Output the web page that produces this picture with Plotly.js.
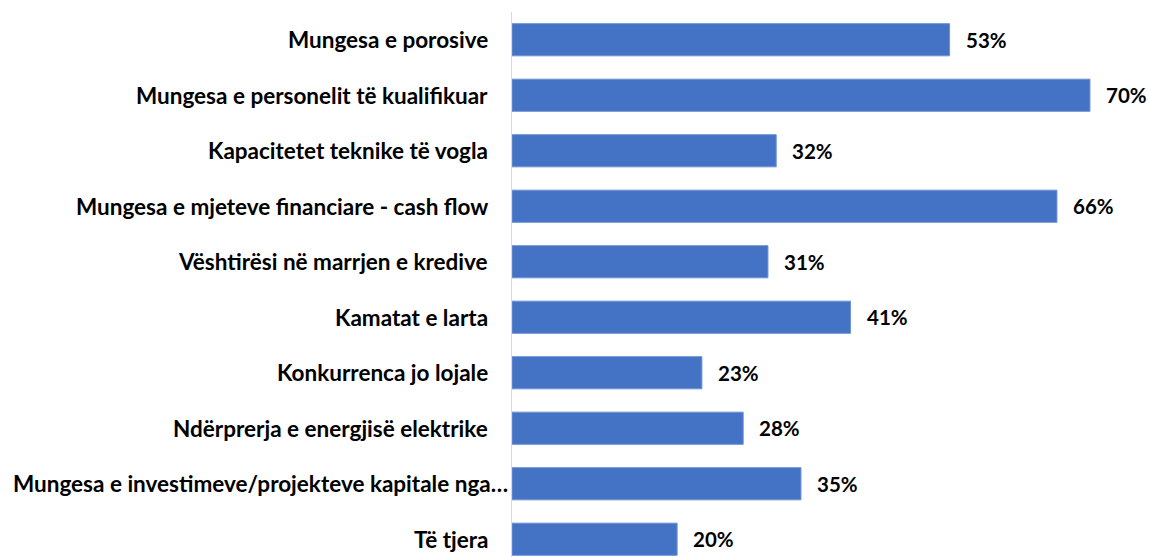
<!DOCTYPE html>
<html>
<head>
<meta charset="utf-8">
<script src="https://cdn.plot.ly/plotly-3.0.1.min.js"></script>
<style>html,body{margin:0;padding:0;background:#fff;}#chart{width:1149px;height:557px;}</style>
</head>
<body>
<div id="chart"></div>
<script>
const categories = [
  "Mungesa e porosive",
  "Mungesa e personelit të kualifikuar",
  "Kapacitetet teknike të vogla",
  "Mungesa e mjeteve financiare - cash flow",
  "Vështirësi në marrjen e kredive",
  "Kamatat e larta",
  "Konkurrenca jo lojale",
  "Ndërprerja e energjisë elektrike",
  "Mungesa e investimeve/projekteve kapitale nga…",
  "Të tjera"
];
const values = [53, 70, 32, 66, 31, 41, 23, 28, 35, 20];
const valueLabels = values.map(v => v + "%");

const FONT = "Lato, 'Open Sans', sans-serif";

const trace = {
  type: "bar",
  orientation: "h",
  y: categories,
  x: values,
  marker: {color: "#4472C4", line: {color: "#6f93d3", width: 1}},
  hoverinfo: "none"
};

const valueAnnotations = values.map((v, i) => ({
  x: v, y: categories[i], xref: "x", yref: "y",
  text: valueLabels[i], showarrow: false,
  xanchor: "left", yanchor: "middle", xshift: 14,
  font: {family: FONT, size: 20.5, color: "#000", weight: 700}
}));

const categoryAnnotations = categories.map((c, i) => ({
  x: 0, y: c, xref: "paper", yref: "y",
  text: c, showarrow: false,
  xanchor: "right", yanchor: "middle",
  xshift: c.endsWith("…") ? -2 : -22,
  font: {family: FONT, size: 22.5, color: "#000", weight: 700}
}));

const layout = {
  width: 1149, height: 557,
  margin: {l: 512, r: 0, t: 12, b: 0, pad: 0},
  paper_bgcolor: "#fff", plot_bgcolor: "#fff",
  showlegend: false,
  bargap: 0.42,
  xaxis: {range: [0, 77.15], showgrid: false, zeroline: false, showticklabels: false, showline: false, ticks: ""},
  yaxis: {
    range: [9.32, -0.5], showgrid: false, zeroline: false,
    showline: true, linecolor: "#d9d9d9", linewidth: 1,
    ticks: "", showticklabels: false
  },
  annotations: categoryAnnotations.concat(valueAnnotations)
};

Plotly.newPlot("chart", [trace], layout, {displayModeBar: false, staticPlot: true});
</script>
</body>
</html>
